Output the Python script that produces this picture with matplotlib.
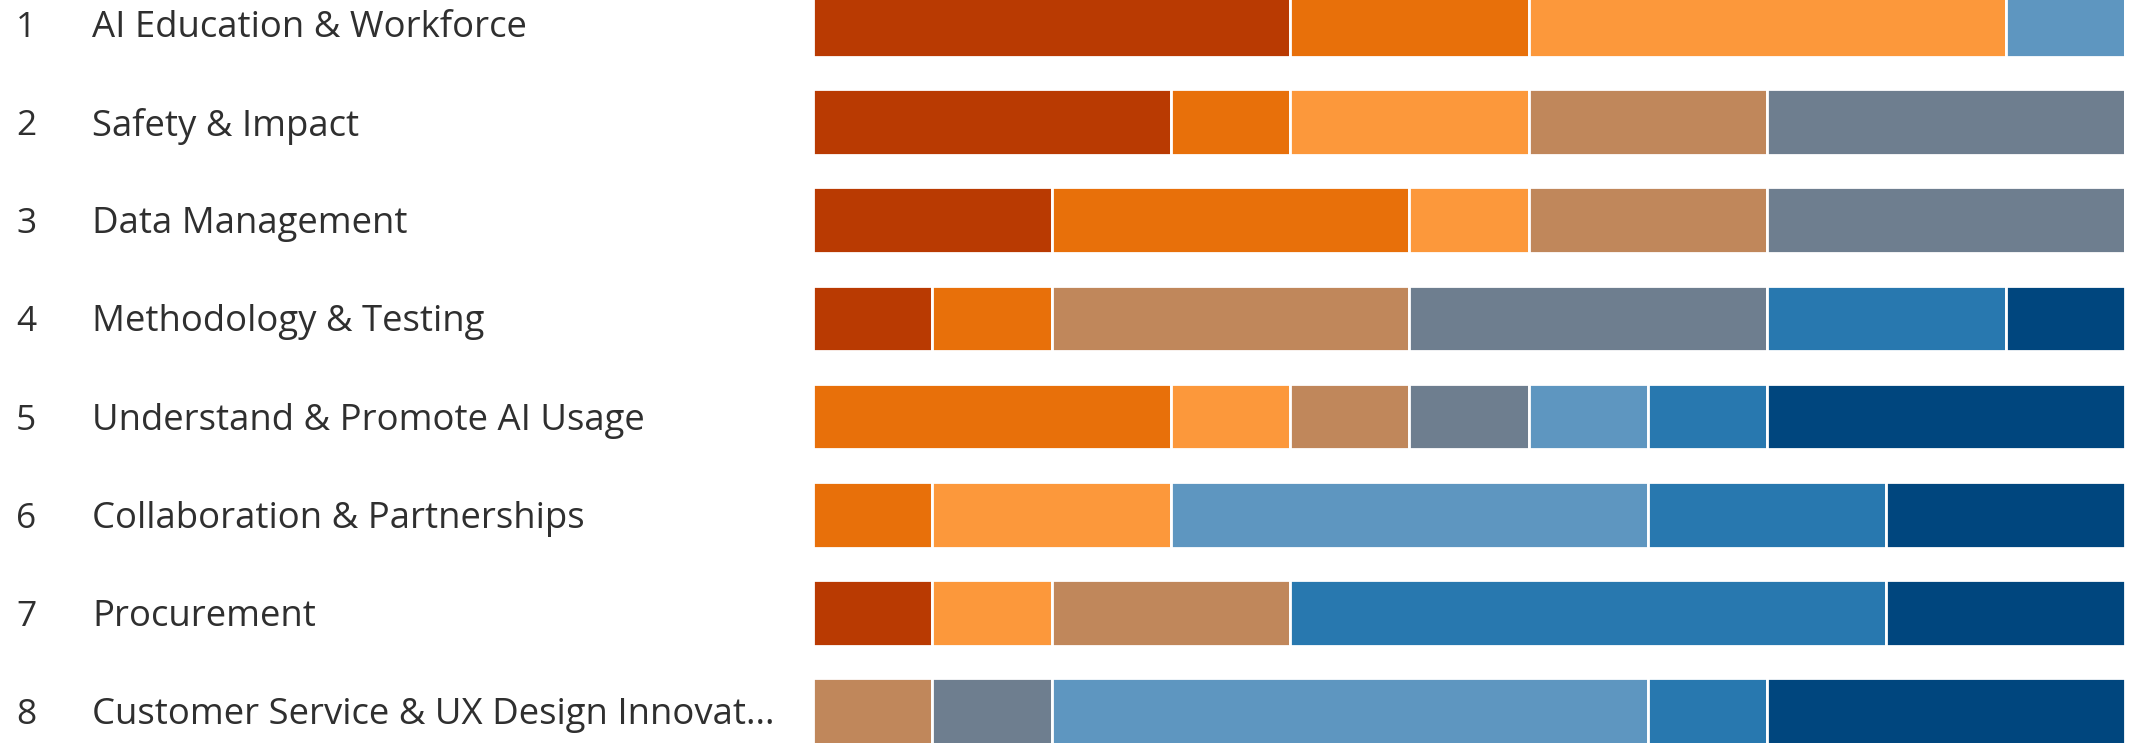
import numpy as np
import matplotlib
matplotlib.use('Agg')
import matplotlib.pyplot as plt
from matplotlib.transforms import blended_transform_factory

# Items in ranked order
items = ['AI Education & Workforce', 'Safety & Impact', 'Data Management',
         'Methodology & Testing', 'Understand & Promote AI Usage',
         'Collaboration & Partnerships', 'Procurement',
         'Customer Service & UX Design Innovat...']

# Number of votes each item got at each rank position
rank_1 = [4, 3, 2, 1, 0, 0, 1, 0]
rank_2 = [2, 1, 3, 1, 3, 1, 0, 0]
rank_3 = [4, 2, 1, 0, 1, 2, 1, 0]
rank_4 = [0, 2, 2, 3, 1, 0, 2, 1]
rank_5 = [0, 3, 3, 3, 1, 0, 0, 1]
rank_6 = [1, 0, 0, 0, 1, 4, 0, 5]
rank_7 = [0, 0, 0, 2, 1, 2, 5, 1]
rank_8 = [0, 0, 0, 1, 3, 2, 2, 3]

rank_colors = ['#B93A02', '#E8700A', '#FC983B', '#C0875B',
               '#6E7E8F', '#5E96C0', '#2878AF', '#00467E']

W, H = 2129, 743
fig = plt.figure(figsize=(W / 100, H / 100), dpi=100)
plt.rcParams['font.family'] = ['Open Sans', 'DejaVu Sans']

# bar area in pixels
bar_left, bar_right = 813, 2125
ax = fig.add_axes([bar_left / W, 0, (bar_right - bar_left) / W, 1])

ranks = np.array([rank_1, rank_2, rank_3, rank_4, rank_5, rank_6, rank_7, rank_8])
y = np.arange(len(items))
left = np.zeros(len(items))
for r in range(ranks.shape[0]):
    ax.barh(y, ranks[r], left=left, height=0.67, color=rank_colors[r],
            edgecolor='white', linewidth=2.0)
    left += ranks[r]

total = ranks.sum(axis=0).max()
ax.set_xlim(0, total)
pitch = 98.2
ax.set_ylim(len(items) - 1 + 32 / pitch, -24 / pitch)
ax.axis('off')

# labels on the left, x in figure pixels, y in data
trans = blended_transform_factory(fig.transFigure, ax.transData)
for i, name in enumerate(items):
    ax.text(26 / W, i + 0.04, str(i + 1), transform=trans, ha='center', va='center',
            fontsize=25.5, color='#2f2f2f')
    ax.text(92 / W, i + 0.04, name, transform=trans, ha='left', va='center',
            fontsize=26.3, color='#2f2f2f')

fig.savefig('out.png', dpi=100, facecolor='white')
